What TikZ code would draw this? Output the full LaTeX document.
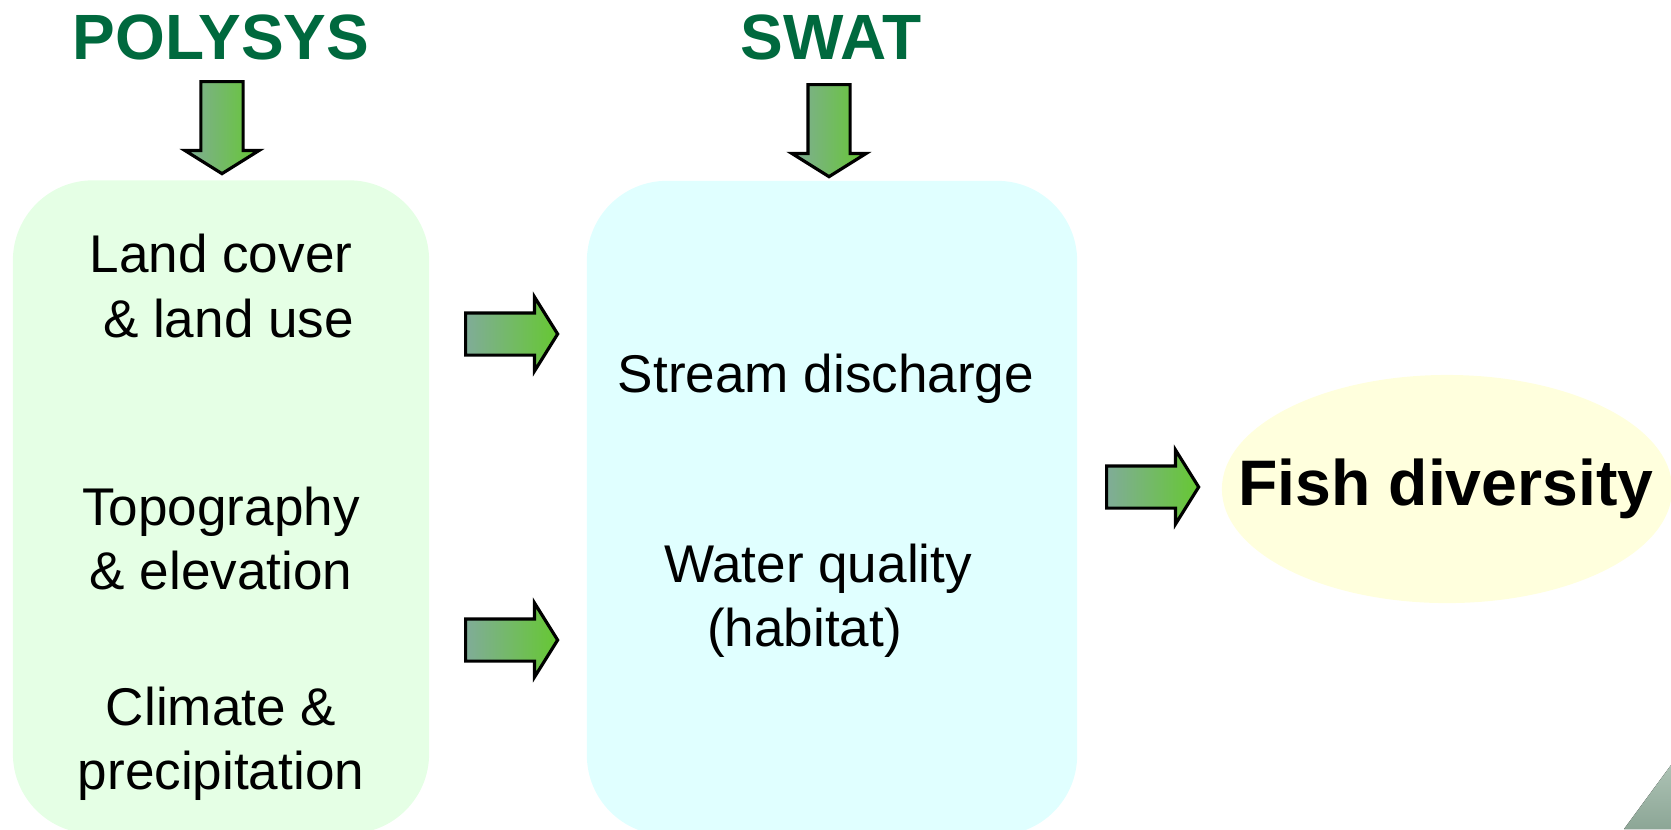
\documentclass[tikz,border=0pt]{standalone}
\usepackage{fontspec}
\setmainfont{Liberation Sans}
\usetikzlibrary{positioning,shapes.arrows,shapes.geometric}

\definecolor{titlegreen}{RGB}{0,105,62}
\definecolor{arrteal}{RGB}{128,172,152}
\definecolor{arrgreen}{RGB}{102,200,50}
\definecolor{polyfill}{RGB}{229,255,229}
\definecolor{swatfill}{RGB}{224,255,255}
\definecolor{fishfill}{RGB}{255,255,221}
\definecolor{cornerlight}{RGB}{172,194,180}
\definecolor{cornerdark}{RGB}{140,166,150}

\begin{document}
\begin{tikzpicture}[
  x=0.01cm, y=-0.01cm,
  font=\fontsize{15.1}{18.2}\selectfont,
  title/.style={font=\fontsize{18.2}{21}\selectfont\bfseries, text=titlegreen, inner sep=0pt},
  panel/.style={rounded corners=0.8cm, inner sep=0pt},
  item/.style={align=center, inner sep=0pt},
  fatarrow/.style={single arrow, draw=black, line width=0.9pt, inner xsep=0pt, inner ysep=0.195cm,
    minimum height=0.92cm, single arrow head extend=0.16cm, single arrow tip angle=116,
    left color=arrteal, right color=arrgreen},
]
  \clip (0,0) rectangle (1671,829);
  \node[title] (polysys) at (221,37) {POLYSYS};
  \node[title] (swat) at (831,37) {SWAT};
  \node[panel, fill=polyfill, minimum width=4.16cm, minimum height=6.53cm] (landbox) at (221,507) {};
  \node[panel, fill=swatfill, minimum width=4.90cm, minimum height=6.54cm] (waterbox) at (832,508) {};
  \node[item] (landuse) at (221,286) {Land cover\\ \hspace*{0.15cm}\& land use};
  \node[item] (topo) at (221,538) {Topography\\ \& elevation};
  \node[item] (climate) at (221,744) {Climate \&\\ precipitation};
  \node[item] (stream) at (826,379) {Stream discharge};
  \node[item] (quality) at (818,601) {Water quality\\(habitat)\hspace*{0.27cm}};
  \node[ellipse, fill=fishfill, minimum width=4.5cm, minimum height=2.28cm] (fish) at (1447,489) {};
  \node[inner sep=0pt, font=\fontsize{18.3}{21}\selectfont\bfseries] (fishtext) at (1446,489) {Fish diversity};
  \node[fatarrow, rotate=-90, anchor=tail] (polyarr) at (222,80) {};
  \node[fatarrow, rotate=-90, anchor=tail] (swatarr) at (829,83) {};
  \node[fatarrow, anchor=tail] (landarr) at (464,334) {};
  \node[fatarrow, anchor=tail] (climarr) at (464,640) {};
  \node[fatarrow, anchor=tail] (fisharr) at (1105,487) {};
  \fill[top color=cornerlight, bottom color=cornerdark] (1671,765) -- (1624,829) -- (1671,829) -- cycle;
\end{tikzpicture}
\end{document}
